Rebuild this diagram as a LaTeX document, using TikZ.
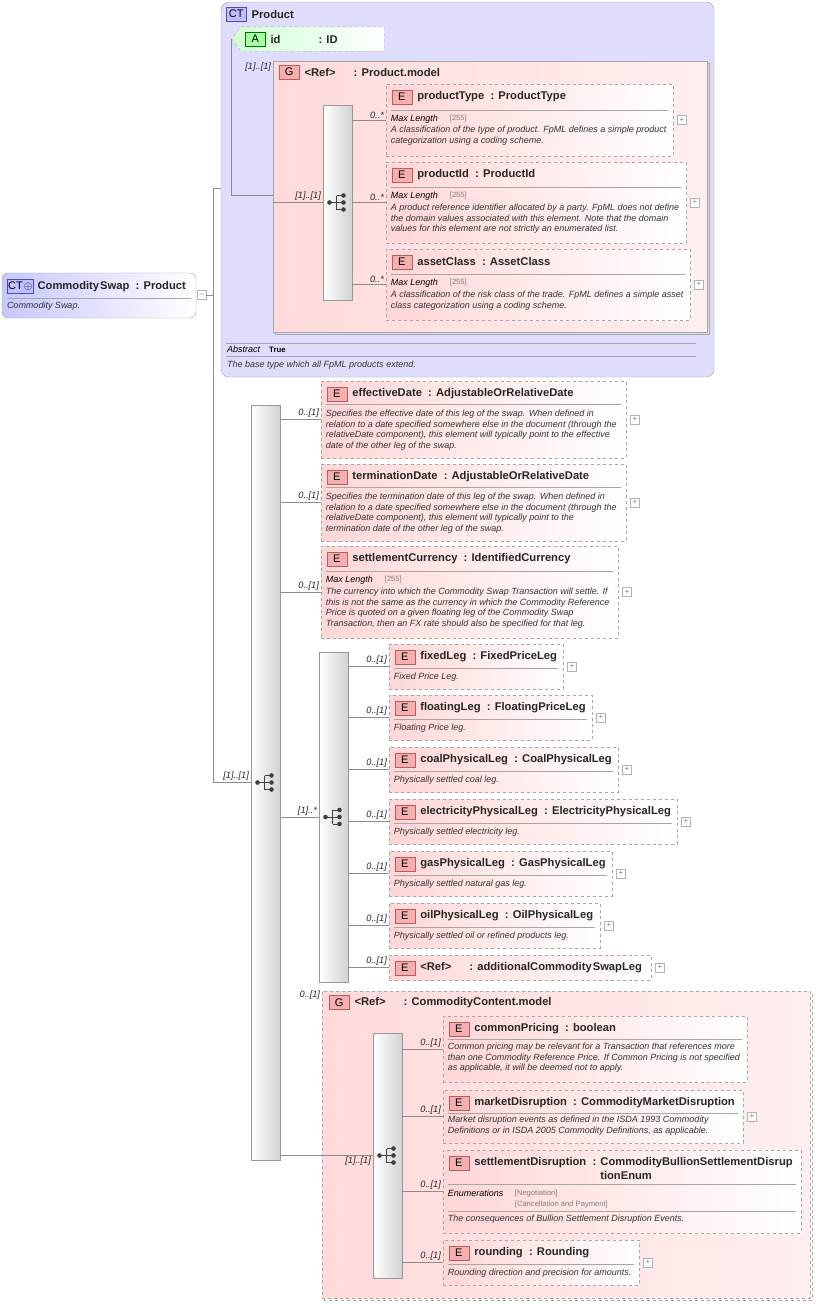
\documentclass[tikz,border=0pt]{standalone}
\usepackage{fontspec}
\setmainfont{Liberation Sans}
\usetikzlibrary{fit,calc}
\definecolor{ctblue}{RGB}{222,222,252}
\definecolor{ctedge}{RGB}{160,160,185}
\definecolor{grppink}{RGB}{255,218,218}
\definecolor{elpink}{RGB}{255,214,214}
\definecolor{badgepink}{RGB}{244,176,176}
\definecolor{badgeedge}{RGB}{190,90,90}
\definecolor{linegray}{RGB}{140,140,140}
\tikzset{
  conn/.style={draw=linegray, line width=0.6pt},
  elem/.style={draw=gray!70, dashed, line width=0.6pt, left color=elpink, right color=white, inner sep=0pt},
  grp/.style={draw=gray!70, line width=0.6pt, left color=grppink, right color=grppink!45, inner sep=0pt},
  bar/.style={draw=gray!80, line width=0.6pt, left color=white, right color=gray!35, inner sep=0pt},
  badge/.style={draw=badgeedge, fill=badgepink, minimum width=20pt, minimum height=14pt, inner sep=0pt, font=\fontsize{11}{11}\selectfont},
  cbadge/.style={badge, draw=blue!40!gray, fill=blue!25},
  ttl/.style={font=\bfseries\fontsize{11.2}{12}\selectfont, inner sep=1pt, text=black!85},
  desc/.style={font=\itshape\fontsize{9}{10.6}\selectfont, inner sep=0pt, align=left, text=black!80},
  mult/.style={font=\itshape\fontsize{9.2}{10}\selectfont, inner sep=1.5pt, text=black!85},
  sep/.style={draw=gray!70, line width=0.5pt},
  facet/.style={font=\itshape\fontsize{9}{10}\selectfont, inner sep=0pt},
  fval/.style={font=\fontsize{7.6}{10}\selectfont, text=gray, inner sep=0pt},
  pbox/.style={draw=gray!60, fill=white, minimum size=9pt, inner sep=0pt, font=\fontsize{8}{8}\selectfont, text=gray}
}
% element box: name, x1, y1, x2, y2, title
\newcommand\elem[6]{%
  \node[elem, fit={(#2,#3)(#4,#5)}] (#1) {};
  \node[badge, anchor=north west] (#1-b) at ([shift={(6,6)}]#1.north west) {E};
  \node[ttl, anchor=west] (#1-t) at ([xshift=4pt]#1-b.east) {#6};
}
\newcommand\sepline[2]{\draw[sep] ([shift={(5,#2)}]#1.north west) -- ([shift={(-5,#2)}]#1.north east);}
\newcommand\descr[3]{\node[desc, anchor=north west] at ([shift={(5,#2)}]#1.north west) {#3};}
\newcommand\maxlen[2]{%
  \node[facet, anchor=west] at ([shift={(5,#2)}]#1.north west) {Max Length};
  \node[fval, anchor=west] at ([shift={(64,#2)}]#1.north west) {[255]};}
\newcommand\plusbox[1]{\node[pbox, anchor=west] at ([xshift=4pt]#1.east) {+};}
% compositor icon
\newcommand\compicon[1]{%
  \fill[black!75] ([xshift=-8pt]#1.center) circle (2.3pt);
  \draw[black!75, line width=0.9pt] ([xshift=-8pt]#1.center) -- ([xshift=-1pt]#1.center)
    ([shift={(-1,-7)}]#1.center) -- ([shift={(-1,7)}]#1.center);
  \foreach \dy in {-7,0,7} {
    \draw[black!75, line width=0.9pt] ([shift={(-1,\dy)}]#1.center) -- ([shift={(5,\dy)}]#1.center);
    \fill[black!75] ([shift={(6,\dy)}]#1.center) circle (2.3pt);
  }}
\begin{document}
\begin{tikzpicture}[x=1pt,y=-1pt]
\useasboundingbox (0,0) rectangle (816,1304);

% CommoditySwap
\node[draw=ctedge, rounded corners=6pt, left color=blue!22, right color=white, fit={(2,273)(196,318)}, inner sep=0pt] (csw) {};
\node[cbadge, anchor=north west, minimum width=26pt] (csw-b) at (7,279) {CT\kern1pt$\oplus$};
\node[ttl, anchor=west] at ([xshift=3pt]csw-b.east) {Commodity\kern1pt Swap~ : Product};
\sepline{csw}{25}
\descr{csw}{29}{Commodity Swap.}
\node[pbox, anchor=west] (cswm) at (197,295) {--};

% Product
\node[draw=ctedge, rounded corners=8pt, fill=ctblue, fit={(221,2)(714,377)}, inner sep=0pt] (prod) {};
\node[cbadge, anchor=north west] (prod-b) at (226,7) {CT};
\node[ttl, anchor=west] at ([xshift=4pt]prod-b.east) {Product};
\node[fit={(232,27)(384,51)}, inner sep=0pt] (idattr) {};
\draw[dashed, draw=gray!70, left color=green!18, right color=white]
  ([xshift=9pt]idattr.north west) -- (idattr.north east) -- (idattr.south east)
  -- ([xshift=9pt]idattr.south west) -- (idattr.west) -- cycle;
\node[badge, draw=green!45!black, fill=green!35, anchor=west] (id-b) at (245,39) {A};
\node[ttl, anchor=west] at ([xshift=4pt]id-b.east) {id\hspace{38pt}: ID};

% Product.model group
\draw[draw=gray!70] (275,63) rectangle (709,334);
\node[grp, fit={(273,61)(707,332)}] (pmod) {};
\node[badge, anchor=north west] (pmod-b) at (279,65) {G};
\node[ttl, anchor=west] at ([xshift=4pt]pmod-b.east) {<Ref>\hspace{18pt}: Product.model};
\node[bar, fit={(323,105)(352,300)}] (seqP) {};
\compicon{seqP}

\elem{ptype}{386}{84}{673}{156}{productType~ : ProductType}
\sepline{ptype}{27} \maxlen{ptype}{35}
\descr{ptype}{42}{A classification of the type of product. FpML defines a simple product\\categorization using a coding scheme.}
\plusbox{ptype}
\elem{pid}{386}{162}{686}{243}{productId~ : ProductId}
\sepline{pid}{26} \maxlen{pid}{34}
\descr{pid}{42}{A product reference identifier allocated by a party. FpML does not define\\the domain values associated with this element. Note that the domain\\values for this element are not strictly an enumerated list.}
\plusbox{pid}
\elem{aclass}{386}{249}{690}{320}{assetClass~ : AssetClass}
\sepline{aclass}{26} \maxlen{aclass}{34}
\descr{aclass}{42}{A classification of the risk class of the trade. FpML defines a simple asset\\class categorization using a coding scheme.}
\plusbox{aclass}

\foreach \n in {ptype,pid,aclass}
  \draw[conn] (seqP.east |- \n.west) -- node[mult, pos=1, anchor=south east] {0..*} (\n.west);

% abstract facet
\draw[sep] (226,343) -- (696,343);
\node[facet, anchor=west] at (227,349.5) {Abstract};
\node[fval, anchor=west, text=black, font=\bfseries\fontsize{7.8}{8}\selectfont] at (269,349.5) {True};
\draw[sep] (226,356) -- (696,356);
\node[desc, anchor=west] at (227,365) {The base type which all FpML products extend.};

% connectors of Product
\coordinate (k1) at (231,39);
\coordinate (k2) at (231,195);
\draw[conn] (idattr.west) -- (k1) -- (k2) -- (pmod.west |- k2);
\node[mult, anchor=north east] at (pmod.north west) {[1]..[1]};
\draw[conn] (pmod.west |- seqP.west) -- node[mult, pos=1, anchor=south east] {[1]..[1]} (seqP.west);

% main sequence
\node[bar, fit={(251,405)(280,1160)}] (seqM) {};
\compicon{seqM}
\coordinate (j1) at (213,188);
\coordinate (j2) at (213,782);
\draw[conn] (cswm.east) -- (cswm.east -| j1);
\draw[conn] (prod.west |- j1) -- (j1) -- (j2) -- node[mult, pos=1, anchor=south east] {[1]..[1]} (seqM.west |- j2);

\elem{effd}{321}{381}{626}{458}{effectiveDate~ : AdjustableOrRelativeDate}
\sepline{effd}{24}
\descr{effd}{29}{Specifies the effective date of this leg of the swap. When defined in\\relation to a date specified somewhere else in the document (through the\\relativeDate component), this element will typically point to the effective\\date of the other leg of the swap.}
\plusbox{effd}
\elem{termd}{321}{464}{626}{541}{terminationDate~ : AdjustableOrRelativeDate}
\sepline{termd}{24}
\descr{termd}{29}{Specifies the termination date of this leg of the swap. When defined in\\relation to a date specified somewhere else in the document (through the\\relativeDate component), this element will typically point to the\\termination date of the other leg of the swap.}
\plusbox{termd}
\elem{setc}{321}{546}{618}{638}{settlementCurrency~ : IdentifiedCurrency}
\sepline{setc}{26} \maxlen{setc}{34}
\descr{setc}{42}{The currency into which the Commodity Swap Transaction will settle. If\\this is not the same as the currency in which the Commodity Reference\\Price is quoted on a given floating leg of the Commodity Swap\\Transaction, then an FX rate should also be specified for that leg.}
\plusbox{setc}
\foreach \n in {effd,termd,setc}
  \draw[conn] (seqM.east |- \n.west) -- node[mult, pos=1, anchor=south east] {0..[1]} (\n.west);

% legs choice
\node[bar, fit={(319,652)(348,982)}] (chLeg) {};
\compicon{chLeg}
\draw[conn] (seqM.east |- chLeg.west) -- node[mult, pos=1, anchor=south east] {[1]..*} (chLeg.west);
\foreach \n/\ya/\xb/\t/\d in {
  fixl/644/563/{fixedLeg~ : FixedPriceLeg}/{Fixed Price Leg.},
  flol/695/592/{floatingLeg~ : FloatingPriceLeg}/{Floating Price leg.},
  coal/747/618/{coalPhysicalLeg~ : CoalPhysicalLeg}/{Physically settled coal leg.},
  elec/799/677/{electricityPhysicalLeg~ : ElectricityPhysicalLeg}/{Physically settled electricity leg.},
  gasl/851/612/{gasPhysicalLeg~ : GasPhysicalLeg}/{Physically settled natural gas leg.},
  oill/903/600/{oilPhysicalLeg~ : OilPhysicalLeg}/{Physically settled oil or refined products leg.}} {
  \elem{\n}{389}{\ya}{\xb}{\ya+45}{\t}
  \sepline{\n}{25}
  \descr{\n}{29}{\d}
  \plusbox{\n}
  \draw[conn] (chLeg.east |- \n.west) -- node[mult, pos=1, anchor=south east] {0..[1]} (\n.west);
}
\elem{addl}{389}{955}{651}{980}{<Ref>\hspace{18pt}: additionalCommodity\kern1pt SwapLeg}
\plusbox{addl}
\draw[conn] (chLeg.east |- addl.west) -- node[mult, pos=1, anchor=south east] {0..[1]} (addl.west);

% CommodityContent.model group
\draw[draw=gray!70, dashed] (324,993) rectangle (812,1300);
\node[grp, dashed, fit={(322,991)(810,1298)}] (ccm) {};
\node[badge, anchor=north west] (ccm-b) at (329,995) {G};
\node[ttl, anchor=west] at ([xshift=4pt]ccm-b.east) {<Ref>\hspace{18pt}: CommodityContent.model};
\node[mult, anchor=east] at ([yshift=-4pt]ccm.north west) {0..[1]};
\node[bar, fit={(373,1033)(402,1278)}] (seqC) {};
\compicon{seqC}
\draw[conn] (seqM.east |- seqC.west) -- node[mult, pos=1, anchor=north east] {[1]..[1]} (seqC.west);

\elem{cpr}{443}{1016}{747}{1082}{commonPricing~ : boolean}
\sepline{cpr}{24}
\descr{cpr}{27}{Common pricing may be relevant for a Transaction that references more\\than one Commodity Reference Price. If Common Pricing is not specified\\as applicable, it will be deemed not to apply.}
\elem{mdis}{443}{1090}{743}{1143}{marketDisruption~ : CommodityMarketDisruption}
\sepline{mdis}{24}
\descr{mdis}{26}{Market disruption events as defined in the ISDA 1993 Commodity\\Definitions or in ISDA 2005 Commodity Definitions, as applicable.}
\plusbox{mdis}
\elem{sdis}{443}{1150}{801}{1233}{settlementDisruption~ : CommodityBullionSettlementDisrup}
\node[ttl, anchor=north west] at ([shift={(126,1)}]sdis-t.south west) {tionEnum};
\sepline{sdis}{35}
\node[facet, anchor=west] at ([shift={(5,44)}]sdis.north west) {Enumerations};
\node[fval, anchor=west] at ([shift={(72,44)}]sdis.north west) {[Negotiation]};
\node[fval, anchor=west] at ([shift={(72,55)}]sdis.north west) {[Cancellation and Payment]};
\sepline{sdis}{62}
\descr{sdis}{65}{The consequences of Bullion Settlement Disruption Events.}
\elem{rnd}{443}{1240}{639}{1285}{rounding~ : Rounding}
\sepline{rnd}{25}
\descr{rnd}{29}{Rounding direction and precision for amounts.}
\plusbox{rnd}
\foreach \n in {cpr,mdis,sdis,rnd}
  \draw[conn] (seqC.east |- \n.west) -- node[mult, pos=1, anchor=south east] {0..[1]} (\n.west);
\end{tikzpicture}
\end{document}
